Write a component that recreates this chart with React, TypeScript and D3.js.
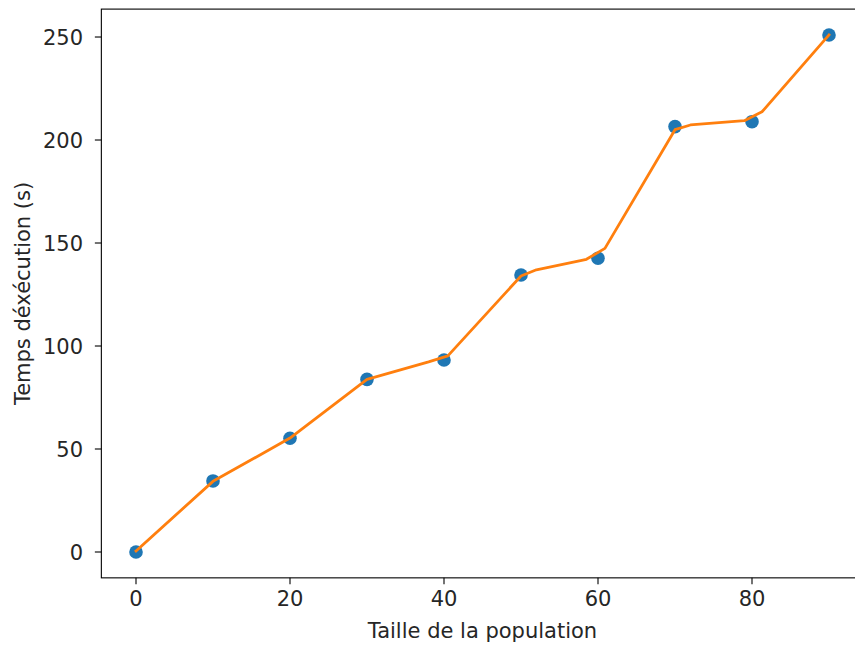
import React, { useMemo } from 'react';
import * as d3 from 'd3';

// scatter: measured runtimes
const sizes = [0, 10, 20, 30, 40, 50, 60, 70, 80, 90];
const times = [0, 34.5, 55.2, 83.8, 93.2, 134.5, 142.6, 206.5, 208.9, 251];

// orange curve vertices (smoothed)
const fitX = [0, 10, 20, 30, 38, 40.5, 50, 52, 58.5, 60.9, 70, 72, 79, 81.3, 90];
const fitY = [0.5, 34.3, 55.3, 83.8, 92.3, 95.2, 134, 137, 142.1, 147.4, 205, 207.3, 209.4, 213.7, 251];

const xTicks = [0, 20, 40, 60, 80];
const yTicks = [0, 50, 100, 150, 200, 250];

const xLabel = 'Taille de la population';
const yLabel = 'Temps déxécution (s)';

const WIDTH = 855;
const HEIGHT = 647;
const FONT = 'DejaVu Sans, sans-serif';
const FS = 21;

export default function App() {
  const MARGIN = { top: 9.1, left: 101.35, right: 863.65, bottom: 577.85 };

  const xScale = useMemo(() => {
    return d3.scaleLinear().domain([-4.5, 94.5]).range([MARGIN.left, MARGIN.right]);
  }, []);

  const yScale = useMemo(() => {
    return d3.scaleLinear().domain([-12.55, 263.55]).range([MARGIN.bottom, MARGIN.top]);
  }, []);

  const fitLine = d3
    .line<number>()
    .x((d, i) => xScale(fitX[i]))
    .y((d) => yScale(d))(fitY);

  const tickLen = 6.5;

  const xAxis = xTicks.map((t, i) => (
    <g key={i}>
      <line x1={xScale(t)} x2={xScale(t)} y1={MARGIN.bottom} y2={MARGIN.bottom + tickLen} stroke="#000" strokeWidth={1.1} />
      <text x={xScale(t)} y={606} textAnchor="middle" fontSize={FS} fontFamily={FONT} fill="#262626">
        {t}
      </text>
    </g>
  ));

  const yAxis = yTicks.map((t, i) => (
    <g key={i}>
      <line x1={MARGIN.left - tickLen} x2={MARGIN.left} y1={yScale(t)} y2={yScale(t)} stroke="#000" strokeWidth={1.1} />
      <text x={83} y={yScale(t)} dy="0.36em" textAnchor="end" fontSize={FS} fontFamily={FONT} fill="#262626">
        {t}
      </text>
    </g>
  ));

  return (
    <div>
      <svg
        width={WIDTH}
        height={HEIGHT}
        style={{ position: 'absolute', left: 0, top: 0, background: '#fff' }}
      >
        <rect x={0} y={0} width={WIDTH} height={HEIGHT} fill="#fff" />
        {times.map((v, i) => (
          <circle key={i} cx={xScale(sizes[i])} cy={yScale(v)} r={6.8} fill="#1f77b4" />
        ))}
        <path d={fitLine ?? ''} fill="none" stroke="#ff7f0e" strokeWidth={2.8} strokeLinejoin="round" strokeLinecap="square" />
        <rect
          x={MARGIN.left}
          y={MARGIN.top}
          width={MARGIN.right - MARGIN.left}
          height={MARGIN.bottom - MARGIN.top}
          fill="none"
          stroke="#000"
          strokeWidth={1.1}
        />
        {xAxis}
        {yAxis}
        <text x={(MARGIN.left + MARGIN.right) / 2} y={638} textAnchor="middle" fontSize={FS} fontFamily={FONT} fill="#262626">
          {xLabel}
        </text>
        <text
          transform={`translate(30,${(MARGIN.top + MARGIN.bottom) / 2}) rotate(-90)`}
          textAnchor="middle"
          fontSize={FS}
          fontFamily={FONT}
          fill="#262626"
        >
          {yLabel}
        </text>
      </svg>
    </div>
  );
}
